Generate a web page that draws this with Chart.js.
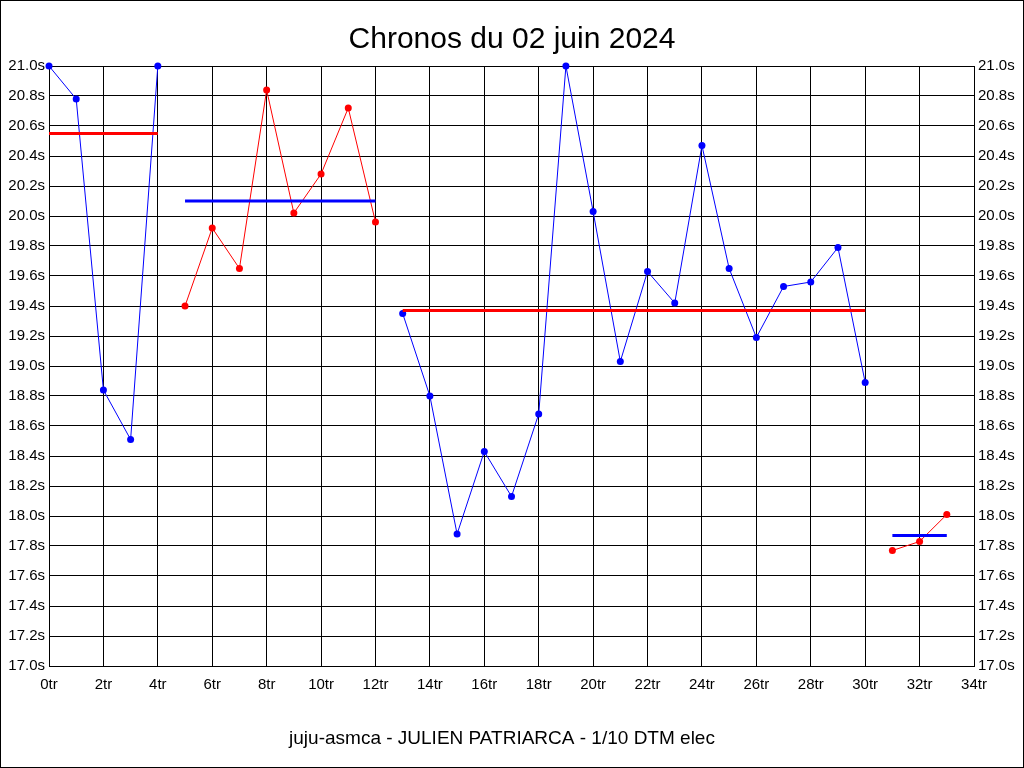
<!DOCTYPE html>
<html>
<head>
<meta charset="utf-8">
<script src="https://cdn.jsdelivr.net/npm/chart.js@4.4.1/dist/chart.umd.min.js"></script>
<style>
html,body{margin:0;padding:0;background:#fff;}
#wrap{width:1024px;height:768px;position:relative;}
</style>
</head>
<body>
<div id="wrap"><canvas id="c" width="1024" height="768"></canvas></div>
<script>
// ---- data ----
const titleText = "Chronos du 02 juin 2024";
const footerText = "juju-asmca - JULIEN PATRIARCA - 1/10 DTM elec";

const run1Laps = [0, 1, 2, 3, 4];
const run1Times = [21.0, 20.78, 18.84, 18.51, 21.0];
const run2Laps = [5, 6, 7, 8, 9, 10, 11, 12];
const run2Times = [19.40, 19.92, 19.65, 20.84, 20.02, 20.28, 20.72, 19.96];
const run3Laps = [13, 14, 15, 16, 17, 18, 19, 20, 21, 22, 23, 24, 25, 26, 27, 28, 29, 30];
const run3Times = [19.35, 18.80, 17.88, 18.43, 18.13, 18.68, 21.0, 20.03, 19.03, 19.63, 19.42, 20.47, 19.65, 19.19, 19.53, 19.56, 19.79, 18.89];
const run4Laps = [31, 32, 33];
const run4Times = [17.77, 17.83, 18.01];

const meanStart = [0, 5, 13, 31];
const meanEnd = [4, 12, 30, 33];
const meanValues = [20.55, 20.10, 19.37, 17.87];

const xMin = 0, xMax = 34, xStep = 2;
const yMin = 17.0, yMax = 21.0, yStep = 0.2;
const xTickSuffix = "tr";
const yTickSuffix = "s";

// ---- build datasets ----
const BLUE = "#0000ff", RED = "#ff0000";
const runs = [
  [run1Laps, run1Times, BLUE],
  [run2Laps, run2Times, RED],
  [run3Laps, run3Times, BLUE],
  [run4Laps, run4Times, RED]
];
const meanColors = [RED, BLUE, RED, BLUE];
const datasets = [];
runs.forEach(function (r) {
  datasets.push({
    data: r[0].map(function (x, i) { return { x: x, y: r[1][i] }; }),
    borderColor: r[2], backgroundColor: r[2],
    borderWidth: 1, pointRadius: 3.5, pointBorderWidth: 0, pointHoverRadius: 3.5,
    tension: 0, clip: false, order: 2
  });
});
meanValues.forEach(function (v, i) {
  datasets.push({
    data: [{ x: meanStart[i], y: v }, { x: meanEnd[i], y: v }],
    borderColor: meanColors[i], backgroundColor: meanColors[i],
    borderWidth: 3, pointRadius: 0, pointHoverRadius: 0,
    tension: 0, clip: false, order: 1
  });
});

const FONT = "'Liberation Sans', Arial, sans-serif";

const frameAndFooter = {
  id: 'frameAndFooter',
  afterDraw: function (chart) {
    const ctx = chart.ctx;
    ctx.save();
    ctx.strokeStyle = '#000';
    ctx.lineWidth = 1;
    ctx.strokeRect(0.5, 0.5, chart.width - 1, chart.height - 1);
    ctx.fillStyle = '#000';
    ctx.font = "19px " + FONT;
    ctx.textAlign = 'center';
    ctx.textBaseline = 'alphabetic';
    ctx.fillText(footerText, 502, 744);
    ctx.restore();
  }
};

function yTicks(v) { return v.toFixed(1) + yTickSuffix; }

new Chart(document.getElementById('c'), {
  type: 'line',
  data: { datasets: datasets },
  plugins: [frameAndFooter],
  options: {
    responsive: false,
    animation: false,
    events: [],
    layout: { padding: { top: 0, left: 0, right: 0, bottom: 72 } },
    plugins: {
      legend: { display: false },
      tooltip: { enabled: false },
      title: {
        display: true, text: titleText, color: '#000',
        font: { family: FONT, size: 30, weight: 'normal' },
        padding: { top: 22, bottom: 8 }
      }
    },
    scales: {
      x: {
        type: 'linear', min: xMin, max: xMax,
        afterFit: function (s) { s.height = 30; },
        ticks: {
          stepSize: xStep, color: '#000', padding: 10,
          font: { family: FONT, size: 15 },
          callback: function (v) { return v + xTickSuffix; }
        },
        grid: { color: '#000', lineWidth: 1, drawTicks: false },
        border: { color: '#000', width: 1 }
      },
      y: {
        type: 'linear', position: 'left', min: yMin, max: yMax,
        afterFit: function (s) { s.width = 49; },
        ticks: {
          stepSize: yStep, color: '#000', padding: 4,
          font: { family: FONT, size: 15 },
          callback: yTicks
        },
        grid: { color: '#000', lineWidth: 1, drawTicks: false },
        border: { color: '#000', width: 1 }
      },
      y2: {
        type: 'linear', position: 'right', min: yMin, max: yMax,
        afterFit: function (s) { s.width = 50; },
        ticks: {
          stepSize: yStep, color: '#000', padding: 4,
          font: { family: FONT, size: 15 },
          callback: yTicks
        },
        grid: { display: false, drawTicks: false },
        border: { color: '#000', width: 1 }
      }
    }
  }
});
</script>
</body>
</html>
